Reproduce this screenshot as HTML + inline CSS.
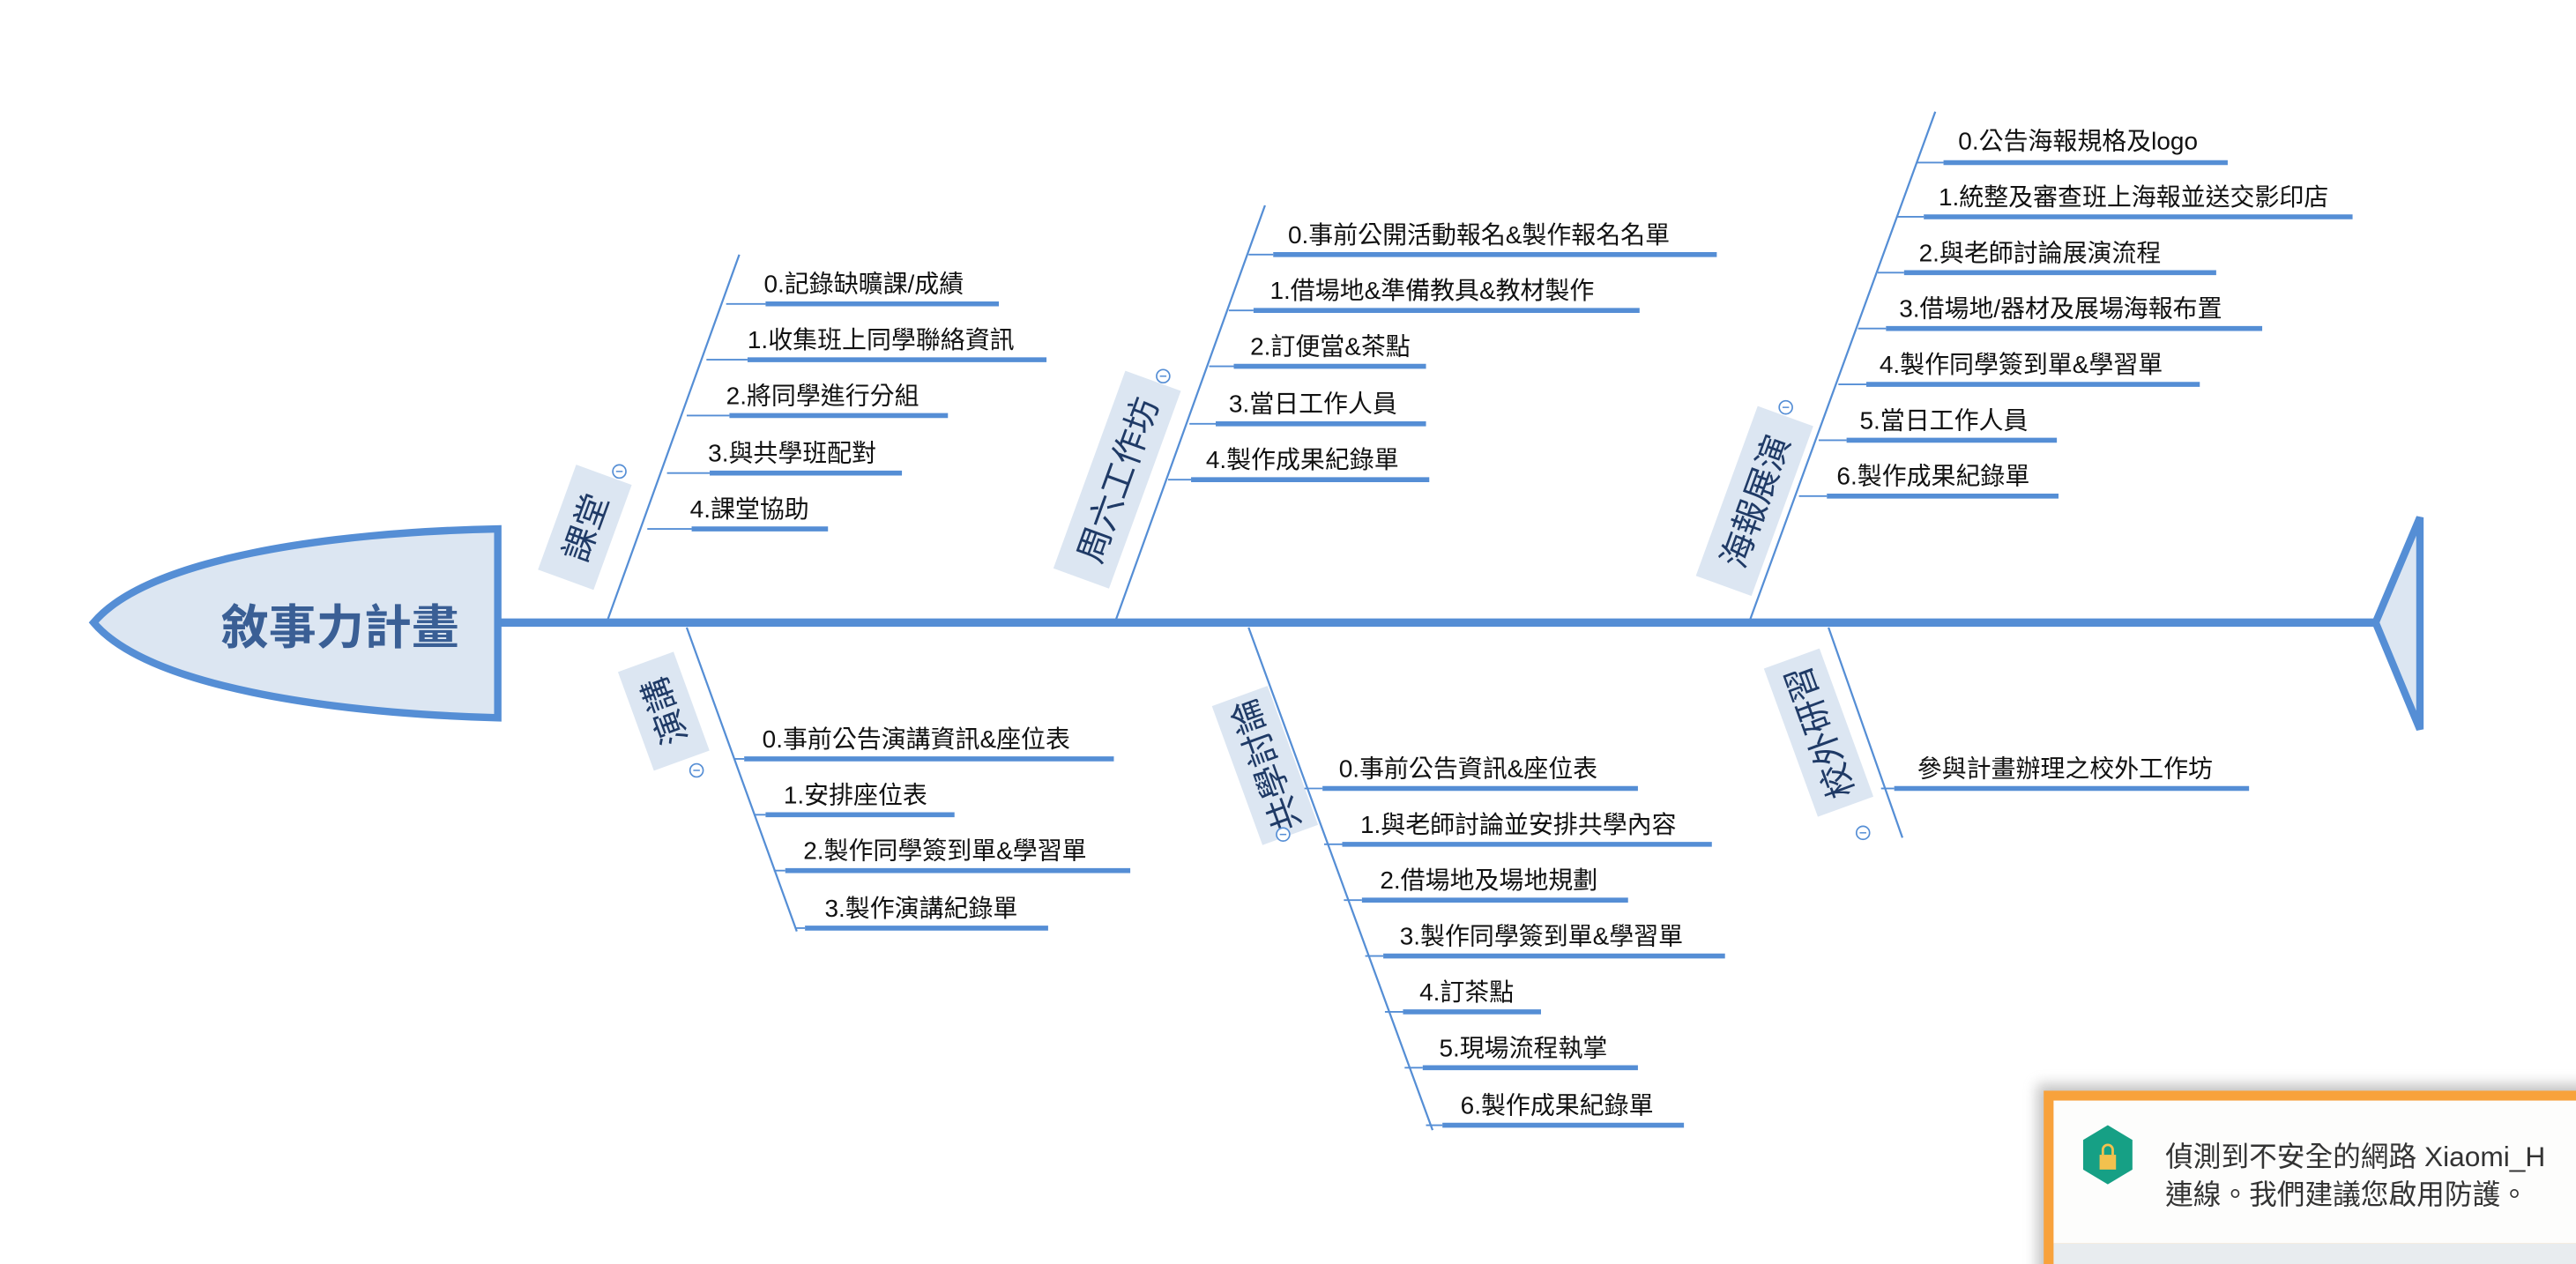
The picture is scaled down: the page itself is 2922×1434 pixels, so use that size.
<!DOCTYPE html>
<html><head><meta charset="utf-8"><style>
html,body{margin:0;padding:0;background:#fff;width:2922px;height:1434px;overflow:hidden}
svg{display:block}
text{font-family:"Liberation Sans","Noto Sans CJK TC","Noto Sans CJK SC",sans-serif}
.t{font-size:15px;fill:#111}
.u{stroke:#558ed5;stroke-width:3}
.c{stroke:#558ed5;stroke-width:1}
.b{stroke:#558ed5;stroke-width:1.2;fill:none}
.lb{fill:#dce6f2}
.lt{font-size:21px;fill:#1f3a66}
.m{fill:#fff;stroke:#558ed5;stroke-width:0.9}
</style></head><body>
<svg width="2922" height="1434" viewBox="0 0 1568 769.5" preserveAspectRatio="none" xmlns="http://www.w3.org/2000/svg">
<path d="M303,322 C200,324 90,340 57,379 C90,418 200,434 303,437 Z" fill="#dce6f2" stroke="#558ed5" stroke-width="4.5"/>
<text x="207" y="392" text-anchor="middle" style="font-size:29px;font-weight:bold;fill:#3a5f95">敘事力計畫</text>
<line x1="305" y1="379" x2="1446" y2="379" stroke="#558ed5" stroke-width="5"/>
<path d="M1446,379 L1473,315 L1473,444 Z" fill="#dce6f2" stroke="#558ed5" stroke-width="4.5" stroke-linejoin="miter"/>

<line class="b" x1="370" y1="377" x2="450" y2="155"/>
<g transform="translate(356,321) rotate(-70)"><rect class="lb" x="-34" y="-18" width="68" height="36"/><text class="lt" x="0" y="8" text-anchor="middle">課堂</text></g>
<circle class="m" cx="377" cy="287" r="4"/><line x1="375" y1="287" x2="379" y2="287" stroke="#558ed5" stroke-width="0.8"/>
<line class="c" x1="442" y1="185" x2="466" y2="185"/><line class="u" x1="466" y1="185" x2="608" y2="185"/><text class="t" x="465" y="178">0.記錄缺曠課/成績</text>
<line class="c" x1="430" y1="219" x2="455" y2="219"/><line class="u" x1="455" y1="219" x2="637" y2="219"/><text class="t" x="455" y="212">1.收集班上同學聯絡資訊</text>
<line class="c" x1="418" y1="253" x2="444" y2="253"/><line class="u" x1="444" y1="253" x2="577" y2="253"/><text class="t" x="442" y="246">2.將同學進行分組</text>
<line class="c" x1="406" y1="288" x2="432" y2="288"/><line class="u" x1="432" y1="288" x2="549" y2="288"/><text class="t" x="431" y="281">3.與共學班配對</text>
<line class="c" x1="394" y1="322" x2="421" y2="322"/><line class="u" x1="421" y1="322" x2="504" y2="322"/><text class="t" x="420" y="315">4.課堂協助</text>

<line class="b" x1="679" y1="378" x2="770" y2="125"/>
<g transform="translate(680,292) rotate(-70)"><rect class="lb" x="-64" y="-18" width="128" height="36"/><text class="lt" x="0" y="8" text-anchor="middle">周六工作坊</text></g>
<circle class="m" cx="708" cy="229" r="4"/><line x1="706" y1="229" x2="710" y2="229" stroke="#558ed5" stroke-width="0.8"/>
<line class="c" x1="760" y1="155" x2="775" y2="155"/><line class="u" x1="775" y1="155" x2="1045" y2="155"/><text class="t" x="784" y="148">0.事前公開活動報名&amp;製作報名名單</text>
<line class="c" x1="748" y1="189" x2="763" y2="189"/><line class="u" x1="763" y1="189" x2="998" y2="189"/><text class="t" x="773" y="182">1.借場地&amp;準備教具&amp;教材製作</text>
<line class="c" x1="736" y1="223" x2="751" y2="223"/><line class="u" x1="751" y1="223" x2="868" y2="223"/><text class="t" x="761" y="216">2.訂便當&amp;茶點</text>
<line class="c" x1="724" y1="258" x2="740" y2="258"/><line class="u" x1="740" y1="258" x2="868" y2="258"/><text class="t" x="748" y="251">3.當日工作人員</text>
<line class="c" x1="711" y1="292" x2="725" y2="292"/><line class="u" x1="725" y1="292" x2="870" y2="292"/><text class="t" x="734" y="285">4.製作成果紀錄單</text>

<line class="b" x1="1065" y1="378" x2="1178" y2="68"/>
<g transform="translate(1068,305) rotate(-70)"><rect class="lb" x="-55" y="-18" width="110" height="36"/><text class="lt" x="0" y="8" text-anchor="middle">海報展演</text></g>
<circle class="m" cx="1087" cy="248" r="4"/><line x1="1085" y1="248" x2="1089" y2="248" stroke="#558ed5" stroke-width="0.8"/>
<line class="c" x1="1167" y1="99" x2="1183" y2="99"/><line class="u" x1="1183" y1="99" x2="1356" y2="99"/><text class="t" x="1192" y="91">0.公告海報規格及logo</text>
<line class="c" x1="1155" y1="132" x2="1171" y2="132"/><line class="u" x1="1171" y1="132" x2="1432" y2="132"/><text class="t" x="1180" y="125">1.統整及審查班上海報並送交影印店</text>
<line class="c" x1="1143" y1="166" x2="1159" y2="166"/><line class="u" x1="1159" y1="166" x2="1349" y2="166"/><text class="t" x="1168" y="159">2.與老師討論展演流程</text>
<line class="c" x1="1131" y1="200" x2="1148" y2="200"/><line class="u" x1="1148" y1="200" x2="1377" y2="200"/><text class="t" x="1156" y="193">3.借場地/器材及展場海報布置</text>
<line class="c" x1="1119" y1="234" x2="1136" y2="234"/><line class="u" x1="1136" y1="234" x2="1339" y2="234"/><text class="t" x="1144" y="227">4.製作同學簽到單&amp;學習單</text>
<line class="c" x1="1107" y1="268" x2="1124" y2="268"/><line class="u" x1="1124" y1="268" x2="1252" y2="268"/><text class="t" x="1132" y="261">5.當日工作人員</text>
<line class="c" x1="1095" y1="302" x2="1112" y2="302"/><line class="u" x1="1112" y1="302" x2="1253" y2="302"/><text class="t" x="1118" y="295">6.製作成果紀錄單</text>

<line class="b" x1="418" y1="382" x2="485" y2="567"/>
<g transform="translate(404,433) rotate(-110)"><rect class="lb" x="-32" y="-18" width="64" height="36"/><text class="lt" x="0" y="8" text-anchor="middle">演講</text></g>
<circle class="m" cx="424" cy="469" r="4"/><line x1="422" y1="469" x2="426" y2="469" stroke="#558ed5" stroke-width="0.8"/>
<line class="c" x1="447" y1="462" x2="453" y2="462"/><line class="u" x1="453" y1="462" x2="678" y2="462"/><text class="t" x="464" y="455">0.事前公告演講資訊&amp;座位表</text>
<line class="c" x1="459" y1="496" x2="466" y2="496"/><line class="u" x1="466" y1="496" x2="581" y2="496"/><text class="t" x="477" y="489">1.安排座位表</text>
<line class="c" x1="471" y1="530" x2="478" y2="530"/><line class="u" x1="478" y1="530" x2="688" y2="530"/><text class="t" x="489" y="523">2.製作同學簽到單&amp;學習單</text>
<line class="c" x1="484" y1="565" x2="490" y2="565"/><line class="u" x1="490" y1="565" x2="638" y2="565"/><text class="t" x="502" y="558">3.製作演講紀錄單</text>

<line class="b" x1="760" y1="382" x2="872" y2="688"/>
<g transform="translate(770,466) rotate(-110)"><rect class="lb" x="-45" y="-18" width="90" height="36"/><text class="lt" x="0" y="8" text-anchor="middle">共學討論</text></g>
<circle class="m" cx="781" cy="508" r="4"/><line x1="779" y1="508" x2="783" y2="508" stroke="#558ed5" stroke-width="0.8"/>
<line class="c" x1="794" y1="480" x2="805" y2="480"/><line class="u" x1="805" y1="480" x2="997" y2="480"/><text class="t" x="815" y="473">0.事前公告資訊&amp;座位表</text>
<line class="c" x1="806" y1="514" x2="817" y2="514"/><line class="u" x1="817" y1="514" x2="1042" y2="514"/><text class="t" x="828" y="507">1.與老師討論並安排共學內容</text>
<line class="c" x1="818" y1="548" x2="829" y2="548"/><line class="u" x1="829" y1="548" x2="991" y2="548"/><text class="t" x="840" y="541">2.借場地及場地規劃</text>
<line class="c" x1="831" y1="582" x2="842" y2="582"/><line class="u" x1="842" y1="582" x2="1050" y2="582"/><text class="t" x="852" y="575">3.製作同學簽到單&amp;學習單</text>
<line class="c" x1="843" y1="616" x2="854" y2="616"/><line class="u" x1="854" y1="616" x2="938" y2="616"/><text class="t" x="864" y="609">4.訂茶點</text>
<line class="c" x1="855" y1="650" x2="866" y2="650"/><line class="u" x1="866" y1="650" x2="997" y2="650"/><text class="t" x="876" y="643">5.現場流程執掌</text>
<line class="c" x1="868" y1="685" x2="878" y2="685"/><line class="u" x1="878" y1="685" x2="1025" y2="685"/><text class="t" x="889" y="678">6.製作成果紀錄單</text>

<line class="b" x1="1113" y1="382" x2="1158" y2="510"/>
<g transform="translate(1107,446) rotate(-110)"><rect class="lb" x="-48" y="-18" width="96" height="36"/><text class="lt" x="0" y="8" text-anchor="middle">校外研習</text></g>
<circle class="m" cx="1134" cy="507" r="4"/><line x1="1132" y1="507" x2="1136" y2="507" stroke="#558ed5" stroke-width="0.8"/>
<line class="c" x1="1145" y1="480" x2="1153" y2="480"/><line class="u" x1="1153" y1="480" x2="1369" y2="480"/><text class="t" x="1167" y="473">參與計畫辦理之校外工作坊</text>

<defs><filter id="sh" x="-10%" y="-30%" width="120%" height="160%"><feGaussianBlur stdDeviation="4"/></filter></defs>
<rect x="1240" y="660" width="340" height="120" fill="#888" opacity="0.5" filter="url(#sh)"/>
<rect x="1244" y="664" width="330" height="110" fill="#f8a23c"/>
<rect x="1250" y="670" width="320" height="87" fill="#fdfdfc"/>
<rect x="1250" y="757" width="320" height="15" fill="#e8ecef"/>
<polygon points="1283,685 1298,694 1298,712 1283,721 1268,712 1268,694" fill="#16a085"/>
<rect x="1278" y="703" width="10" height="9" fill="#f2c14e"/>
<path d="M1280,703 v-3 a3,3 0 0 1 6,0 v3" fill="none" stroke="#f2c14e" stroke-width="1.5"/>
<text x="1318" y="710" style="font-size:17px;fill:#333">偵測到不安全的網路 Xiaomi_H</text>
<text x="1318" y="733" style="font-size:17px;fill:#333">連線。我們建議您啟用防護。</text>
</svg>
</body></html>
